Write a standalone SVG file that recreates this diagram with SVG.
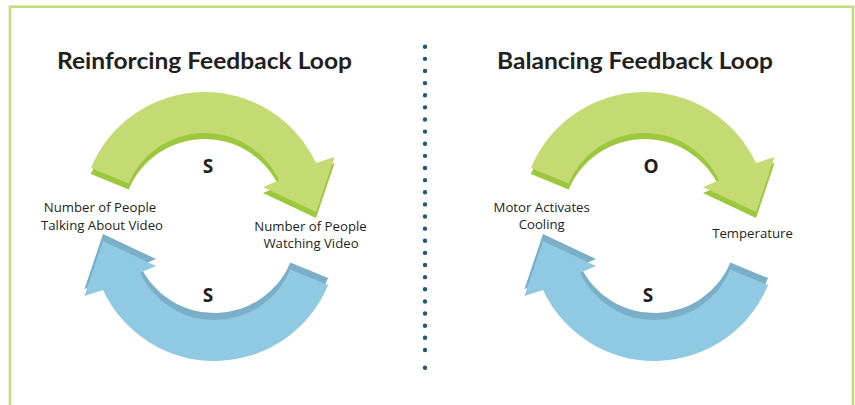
<svg xmlns="http://www.w3.org/2000/svg" xmlns:xlink="http://www.w3.org/1999/xlink" width="855" height="405" viewBox="0 0 855 405">
<style>
.title{font-family:Lato,"Open Sans",sans-serif;font-weight:700;font-size:22px;fill:#231f20;text-anchor:middle}
.lbl{font-family:"Open Sans",sans-serif;font-size:13.2px;fill:#231f20;text-anchor:middle}
.sign{font-family:"Open Sans",sans-serif;font-weight:700;font-size:19px;fill:#231f20;text-anchor:middle}
.gface{fill:#c3db72}
.gside{fill:#9cc83c}
.bface{fill:#8fc9e2}
.bside{fill:#7aafc7}
</style>
<defs>
<path id="arrow" d="M 90.9,167.9 A 123 123 0 0 1 316,163 L 334.5,157 L 316,212 L 263,187 L 278.8,180.3 A 82 82 0 0 0 128.7,183.6 Z"/>
</defs>
<rect x="10" y="6.7" width="843" height="420" fill="none" stroke="#c5dc7a" stroke-width="2.6"/>
<g id="divider">
<line x1="425" y1="46.7" x2="425" y2="350" stroke="#1d5a78" stroke-width="4.4" stroke-linecap="round" stroke-dasharray="0 12.13"/>
<circle cx="425" cy="367.7" r="2.2" fill="#1d5a78"/>
</g>
<g id="connectors">
<g id="reinforcing-top-arrow"><use xlink:href="#arrow" class="gside" transform="translate(0,6)"/><use xlink:href="#arrow" class="gface"/></g>
<g id="reinforcing-bottom-arrow" transform="rotate(180 209.5 226.5)"><use xlink:href="#arrow" class="bside" transform="translate(0,7)"/><use xlink:href="#arrow" class="bface"/></g>
<g transform="translate(440,0)">
<g id="balancing-top-arrow"><use xlink:href="#arrow" class="gside" transform="translate(0,6)"/><use xlink:href="#arrow" class="gface"/></g>
<g id="balancing-bottom-arrow" transform="rotate(180 209.5 226.5)"><use xlink:href="#arrow" class="bside" transform="translate(0,7)"/><use xlink:href="#arrow" class="bface"/></g>
</g>
</g>
<g id="title-reinforcing"><text class="title" x="204.5" y="69" textLength="295" lengthAdjust="spacingAndGlyphs">Reinforcing Feedback Loop</text></g>
<g id="title-balancing"><text class="title" x="635" y="69" textLength="276" lengthAdjust="spacingAndGlyphs">Balancing Feedback Loop</text></g>
<g id="sign-r-top"><text class="sign" x="208" y="173">S</text></g>
<g id="sign-r-bottom"><text class="sign" x="208" y="301.5">S</text></g>
<g id="sign-b-top"><text class="sign" x="651" y="173">O</text></g>
<g id="sign-b-bottom"><text class="sign" x="648" y="301.5">S</text></g>
<g id="node-talking"><text class="lbl"><tspan x="100" y="212">Number of People</tspan><tspan x="102" y="229.5">Talking About Video</tspan></text></g>
<g id="node-watching"><text class="lbl"><tspan x="310.5" y="230.5">Number of People</tspan><tspan x="311" y="248">Watching Video</tspan></text></g>
<g id="node-motor"><text class="lbl"><tspan x="541.7" y="211.5">Motor Activates</tspan><tspan x="541.7" y="229">Cooling</tspan></text></g>
<g id="node-temperature"><text class="lbl" x="752.5" y="238">Temperature</text></g>
</svg>
